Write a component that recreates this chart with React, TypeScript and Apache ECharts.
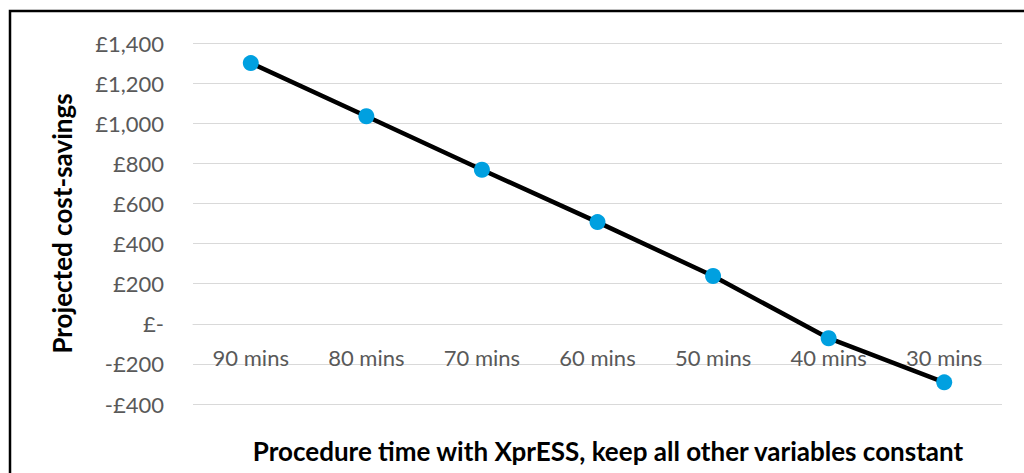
import React, { useEffect, useRef } from "react";
import * as echarts from "echarts";

const categories = ["90 mins", "80 mins", "70 mins", "60 mins", "50 mins", "40 mins", "30 mins"];
const savings = [1300, 1035, 768, 507, 238, -72, -292];
const yTicks = { min: -400, max: 1400, interval: 200 };

const FONT = "Lato, 'Open Sans', sans-serif";

function formatPounds(v: number): string {
  if (v === 0) return "£-";
  const abs = Math.abs(v).toLocaleString("en-GB");
  return (v < 0 ? "-£" : "£") + abs;
}

export default function App() {
  const ref = useRef<HTMLDivElement>(null);

  useEffect(() => {
    if (!ref.current) return;
    const chart = echarts.init(ref.current, undefined, { renderer: "svg" });
    const gridTop = 43;
    const gridBottom = 69;
    const plotHeight = 473 - gridTop - gridBottom;
    // category axis sits on the zero line of the value axis
    const zeroOffset = -plotHeight * (0 - yTicks.min) / (yTicks.max - yTicks.min);
    chart.setOption({
      animation: false,
      backgroundColor: "#ffffff",
      grid: { left: 193, right: 22, top: gridTop, bottom: gridBottom },
      xAxis: {
        type: "category",
        data: categories,
        boundaryGap: true,
        position: "bottom",
        offset: zeroOffset,
        axisLine: { show: true, onZero: false, lineStyle: { color: "#d9d9d9", width: 1 } },
        axisTick: { show: false },
        axisLabel: { color: "#595959", fontSize: 22, fontFamily: FONT, margin: 23 },
      },
      yAxis: {
        type: "value",
        min: yTicks.min,
        max: yTicks.max,
        interval: yTicks.interval,
        name: "Projected cost-savings",
        nameLocation: "middle",
        nameGap: 118,
        nameTextStyle: { color: "#000000", fontSize: 26, fontWeight: "bold", fontFamily: FONT },
        axisLine: { show: false },
        axisTick: { show: false },
        axisLabel: {
          color: "#595959",
          fontSize: 22,
          fontFamily: FONT,
          margin: 29,
          formatter: (v: number) => formatPounds(v),
        },
        splitLine: { lineStyle: { color: "#d9d9d9", width: 1 } },
      },
      graphic: [
        {
          type: "rect",
          shape: { x: 10, y: 11, width: 1100, height: 520 },
          style: { fill: "none", stroke: "#000000", lineWidth: 2.5 },
          silent: true,
        },
        {
          type: "text",
          x: 608,
          y: 451,
          style: {
            text: "Procedure time with XprESS, keep all other variables constant",
            fill: "#000000",
            fontSize: 26,
            fontWeight: "bold",
            fontFamily: FONT,
            align: "center",
            verticalAlign: "middle",
          },
        },
      ],
      series: [
        {
          type: "line",
          data: savings,
          symbol: "circle",
          symbolSize: 16,
          lineStyle: { color: "#000000", width: 4.5 },
          itemStyle: { color: "#00a0e0" },
          z: 3,
        },
      ],
    });
    return () => chart.dispose();
  }, []);

  return (
    <div
      ref={ref}
      style={{ position: "fixed", left: 0, top: 0, width: 1024, height: 473 }}
    />
  );
}
